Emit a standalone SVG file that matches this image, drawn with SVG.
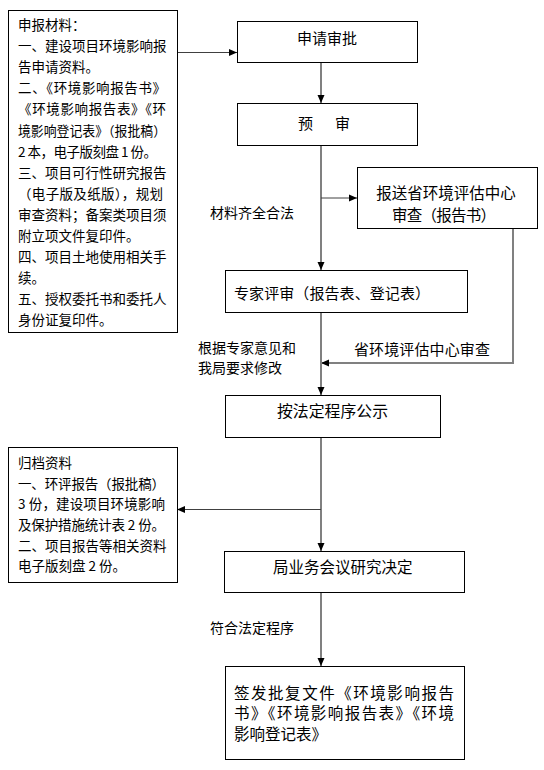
<svg xmlns="http://www.w3.org/2000/svg" width="544" height="770" viewBox="0 0 544 770">
<style>
.box{fill:#fff;stroke:#000;stroke-width:1}
.t{font-family:"Noto Sans CJK SC","Noto Sans CJK JP",sans-serif;fill:#000}
.s{font-size:13.5px}
.m{font-size:15px}
.l{font-size:14px}
.v{fill:none;stroke:#808080;stroke-width:2}
.h{fill:none;stroke:#404040;stroke-width:1}
</style>
<defs>
<marker id="arr" markerUnits="userSpaceOnUse" markerWidth="8" markerHeight="8" refX="8" refY="4" orient="auto">
<path d="M0,0.5 L8,4 L0,7.5 z" fill="#000"/>
</marker>
</defs>
<rect width="544" height="770" fill="#fff"/>
<g id="connectors">
<line class="h" x1="177" y1="52.5" x2="237" y2="52.5" stroke="#000" marker-end="url(#arr)"/>
<line class="v" x1="321" y1="62" x2="321" y2="103" marker-end="url(#arr)"/>
<line class="v" x1="321" y1="145" x2="321" y2="270" marker-end="url(#arr)"/>
<line class="h" x1="321" y1="198" x2="357" y2="198" marker-end="url(#arr)"/>
<polyline class="v" points="513,228 513,363 321,363" marker-end="url(#arr)"/>
<line class="v" x1="321" y1="312" x2="321" y2="395" marker-end="url(#arr)"/>
<line class="v" x1="321" y1="437" x2="321" y2="551" marker-end="url(#arr)"/>
<line class="h" x1="321" y1="509.5" x2="177" y2="509.5" marker-end="url(#arr)"/>
<line class="v" x1="321" y1="592" x2="321" y2="666" marker-end="url(#arr)"/>
</g>
<g id="materials">
<rect class="box" x="8.5" y="10.5" width="169" height="322"/>
<text class="t s" x="18" y="30.1">申报材料：</text>
<text class="t s" x="18" y="51.2">一、建设项目环境影响报</text>
<text class="t s" x="18" y="72.2">告申请资料。</text>
<text class="t s" x="18" y="93.3" textLength="148" lengthAdjust="spacing">二、《环境影响报告书》</text>
<text class="t s" x="18" y="114.4" textLength="148" lengthAdjust="spacing">《环境影响报告表》《环</text>
<text class="t s" x="18" y="135.5" textLength="148" lengthAdjust="spacingAndGlyphs">境影响登记表》（报批稿）</text>
<text class="t s" x="18" y="156.5" textLength="139" lengthAdjust="spacing">2 本，电子版刻盘 1 份。</text>
<text class="t s" x="18" y="177.6">三、项目可行性研究报告</text>
<text class="t s" x="18" y="198.7" textLength="145" lengthAdjust="spacing">（电子版及纸版），规划</text>
<text class="t s" x="18" y="219.7">审查资料；备案类项目须</text>
<text class="t s" x="18" y="240.8">附立项文件复印件。</text>
<text class="t s" x="18" y="261.9">四、项目土地使用相关手</text>
<text class="t s" x="18" y="283">续。</text>
<text class="t s" x="18" y="304">五、授权委托书和委托人</text>
<text class="t s" x="18" y="325.1">身份证复印件。</text>
</g>
<g id="apply">
<rect class="box" x="237.5" y="21.5" width="180" height="41"/>
<text class="t m" x="327" y="43.7" text-anchor="middle">申请审批</text>
</g>
<g id="pre">
<rect class="box" x="237.5" y="103.5" width="180" height="42"/>
<text class="t m" x="298" y="128.7" textLength="52" lengthAdjust="spacing">预　审</text>
</g>
<g id="label-complete">
<text class="t l" x="210" y="218.3">材料齐全合法</text>
</g>
<g id="province">
<rect class="box" x="357.5" y="167.5" width="180" height="61"/>
<text class="t" font-size="15.5" x="446" y="199" text-anchor="middle">报送省环境评估中心</text>
<text class="t" font-size="15.5" x="392" y="221" textLength="104" lengthAdjust="spacing">审查（报告书）</text>
</g>
<g id="expert">
<rect class="box" x="225.5" y="270.5" width="242" height="42"/>
<text class="t m" x="234" y="298.7" textLength="196" lengthAdjust="spacing">专家评审（报告表、登记表）</text>
</g>
<g id="label-modify">
<text class="t l" x="198" y="353.4">根据专家意见和</text>
<text class="t l" x="198" y="373.4">我局要求修改</text>
</g>
<g id="label-province-review">
<text class="t m" x="354" y="354.7" textLength="136" lengthAdjust="spacing">省环境评估中心审查</text>
</g>
<g id="publicity">
<rect class="box" x="225.5" y="395.5" width="215" height="42"/>
<text class="t" font-size="15.5" x="277" y="416.7" textLength="111" lengthAdjust="spacingAndGlyphs">按法定程序公示</text>
</g>
<g id="archive">
<rect class="box" x="8.5" y="447.5" width="169" height="135"/>
<text class="t s" x="18" y="468">归档资料</text>
<text class="t s" x="18" y="488.7" textLength="147" lengthAdjust="spacing">一、环评报告（报批稿）</text>
<text class="t s" x="18" y="509.3" textLength="147" lengthAdjust="spacing">3 份，建设项目环境影响</text>
<text class="t s" x="18" y="530" textLength="147" lengthAdjust="spacing">及保护措施统计表 2 份。</text>
<text class="t s" x="18" y="550.5">二、项目报告等相关资料</text>
<text class="t s" x="18" y="571">电子版刻盘 2 份。</text>
</g>
<g id="meeting">
<rect class="box" x="224.5" y="551.5" width="240" height="41"/>
<text class="t" font-size="15.5" x="273" y="572.7">局业务会议研究决定</text>
</g>
<g id="label-legal">
<text class="t l" x="210" y="633.3">符合法定程序</text>
</g>
<g id="issue">
<rect class="box" x="225.5" y="666.5" width="239" height="93"/>
<text class="t" font-size="15.5" x="234" y="699" textLength="220" lengthAdjust="spacing">签发批复文件《环境影响报告</text>
<text class="t" font-size="15.5" x="234" y="719" textLength="220" lengthAdjust="spacing">书》《环境影响报告表》《环境</text>
<text class="t" font-size="15.5" x="234" y="740">影响登记表》</text>
</g>
</svg>
